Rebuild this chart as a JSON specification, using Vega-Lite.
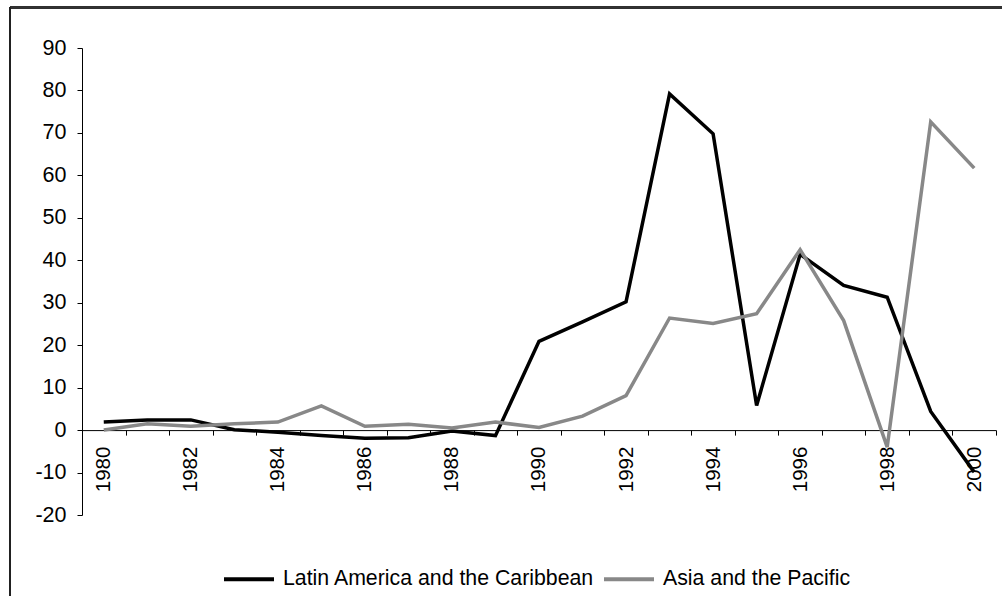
{
  "$schema": "https://vega.github.io/schema/vega-lite/v6.json",
  "width": 914,
  "height": 467,
  "autosize": {"type": "none"},
  "padding": {"left": 82, "top": 48, "right": 6, "bottom": 81},
  "background": "white",
  "config": {
    "font": "Liberation Sans",
    "view": {"stroke": null},
    "axis": {"labelColor": "#000", "domainColor": "#000", "tickColor": "#000", "grid": false, "labelFontSize": 20, "labelFont": "Liberation Sans", "domainWidth": 1, "tickWidth": 1, "labelOverlap": false}
  },
  "data": {
    "values": [
      {"year": 1980, "series": "Latin America and the Caribbean", "value": 1.9},
      {"year": 1981, "series": "Latin America and the Caribbean", "value": 2.4},
      {"year": 1982, "series": "Latin America and the Caribbean", "value": 2.4},
      {"year": 1983, "series": "Latin America and the Caribbean", "value": 0.1},
      {"year": 1984, "series": "Latin America and the Caribbean", "value": -0.5},
      {"year": 1985, "series": "Latin America and the Caribbean", "value": -1.3},
      {"year": 1986, "series": "Latin America and the Caribbean", "value": -1.9},
      {"year": 1987, "series": "Latin America and the Caribbean", "value": -1.8},
      {"year": 1988, "series": "Latin America and the Caribbean", "value": -0.2},
      {"year": 1989, "series": "Latin America and the Caribbean", "value": -1.3},
      {"year": 1990, "series": "Latin America and the Caribbean", "value": 20.9},
      {"year": 1991, "series": "Latin America and the Caribbean", "value": 25.5},
      {"year": 1992, "series": "Latin America and the Caribbean", "value": 30.2},
      {"year": 1993, "series": "Latin America and the Caribbean", "value": 79.2},
      {"year": 1994, "series": "Latin America and the Caribbean", "value": 69.8},
      {"year": 1995, "series": "Latin America and the Caribbean", "value": 5.8},
      {"year": 1996, "series": "Latin America and the Caribbean", "value": 41.4},
      {"year": 1997, "series": "Latin America and the Caribbean", "value": 34.1},
      {"year": 1998, "series": "Latin America and the Caribbean", "value": 31.3},
      {"year": 1999, "series": "Latin America and the Caribbean", "value": 4.4},
      {"year": 2000, "series": "Latin America and the Caribbean", "value": -9.9},
      {"year": 1980, "series": "Asia and the Pacific", "value": 0.0},
      {"year": 1981, "series": "Asia and the Pacific", "value": 1.5},
      {"year": 1982, "series": "Asia and the Pacific", "value": 0.9},
      {"year": 1983, "series": "Asia and the Pacific", "value": 1.5},
      {"year": 1984, "series": "Asia and the Pacific", "value": 1.9},
      {"year": 1985, "series": "Asia and the Pacific", "value": 5.7},
      {"year": 1986, "series": "Asia and the Pacific", "value": 0.9},
      {"year": 1987, "series": "Asia and the Pacific", "value": 1.4},
      {"year": 1988, "series": "Asia and the Pacific", "value": 0.5},
      {"year": 1989, "series": "Asia and the Pacific", "value": 1.9},
      {"year": 1990, "series": "Asia and the Pacific", "value": 0.6},
      {"year": 1991, "series": "Asia and the Pacific", "value": 3.3},
      {"year": 1992, "series": "Asia and the Pacific", "value": 8.1},
      {"year": 1993, "series": "Asia and the Pacific", "value": 26.4},
      {"year": 1994, "series": "Asia and the Pacific", "value": 25.1},
      {"year": 1995, "series": "Asia and the Pacific", "value": 27.4},
      {"year": 1996, "series": "Asia and the Pacific", "value": 42.5},
      {"year": 1997, "series": "Asia and the Pacific", "value": 25.8},
      {"year": 1998, "series": "Asia and the Pacific", "value": -4.0},
      {"year": 1999, "series": "Asia and the Pacific", "value": 72.6},
      {"year": 2000, "series": "Asia and the Pacific", "value": 61.7}
    ]
  },
  "layer": [
    {
      "mark": {"type": "rule", "color": "#333333", "strokeWidth": 1.5},
      "encoding": {
        "y": {"datum": 99.55, "type": "quantitative"},
        "x": {"datum": 1977.85, "type": "quantitative"},
        "x2": {"datum": 2001.5}
      }
    },
    {
      "mark": {"type": "rule", "color": "#222222", "strokeWidth": 1.2},
      "encoding": {
        "x": {"datum": 1977.85, "type": "quantitative"},
        "y": {"datum": 99.55, "type": "quantitative"},
        "y2": {"datum": -50}
      }
    },
    {
      "mark": {"type": "line", "strokeWidth": 3.5, "strokeJoin": "miter", "strokeCap": "butt"},
      "encoding": {
        "x": {
          "field": "year", "type": "quantitative",
          "scale": {"domain": [1979.5, 2000.5], "nice": false, "zero": false},
          "axis": {
            "title": null,
            "offset": -84.9,
            "values": [1979.5, 1980.5, 1981.5, 1982.5, 1983.5, 1984.5, 1985.5, 1986.5, 1987.5, 1988.5, 1989.5, 1990.5, 1991.5, 1992.5, 1993.5, 1994.5, 1995.5, 1996.5, 1997.5, 1998.5, 1999.5, 2000.5],
            "tickSize": 5,
            "labelExpr": "(datum.value + 0.5) % 2 === 0 ? '' + (datum.value + 0.5) : ''",
            "labelOffset": 21.76,
            "labelFontSize": 20.5,
            "labelAngle": 270,
            "labelAlign": "right",
            "labelBaseline": "middle",
            "labelPadding": 11,
            "labelOverlap": false,
            "labelFlush": false,
            "labelBound": false
          }
        },
        "y": {
          "field": "value", "type": "quantitative",
          "scale": {"domain": [-20, 90], "nice": false, "zero": false},
          "axis": {
            "title": null,
            "values": [-20, -10, 0, 10, 20, 30, 40, 50, 60, 70, 80, 90],
            "labelExpr": "'' + datum.value",
            "labelFontSize": 21.5,
            "tickSize": 5,
            "labelPadding": 11
          }
        },
        "color": {
          "field": "series", "type": "nominal",
          "scale": {"domain": ["Latin America and the Caribbean", "Asia and the Pacific"], "range": ["#000000", "#888888"]},
          "legend": {
            "title": null,
            "orient": "none",
            "direction": "horizontal",
            "legendX": 140,
            "legendY": 504,
            "symbolType": "stroke",
            "symbolSize": 2500,
            "symbolStrokeWidth": 4,
            "labelFontSize": 21.3,
            "labelLimit": 0,
            "labelColor": "#000",
            "labelOffset": 7,
            "columnPadding": 1,
            "padding": 0
          }
        }
      }
    }
  ]
}
